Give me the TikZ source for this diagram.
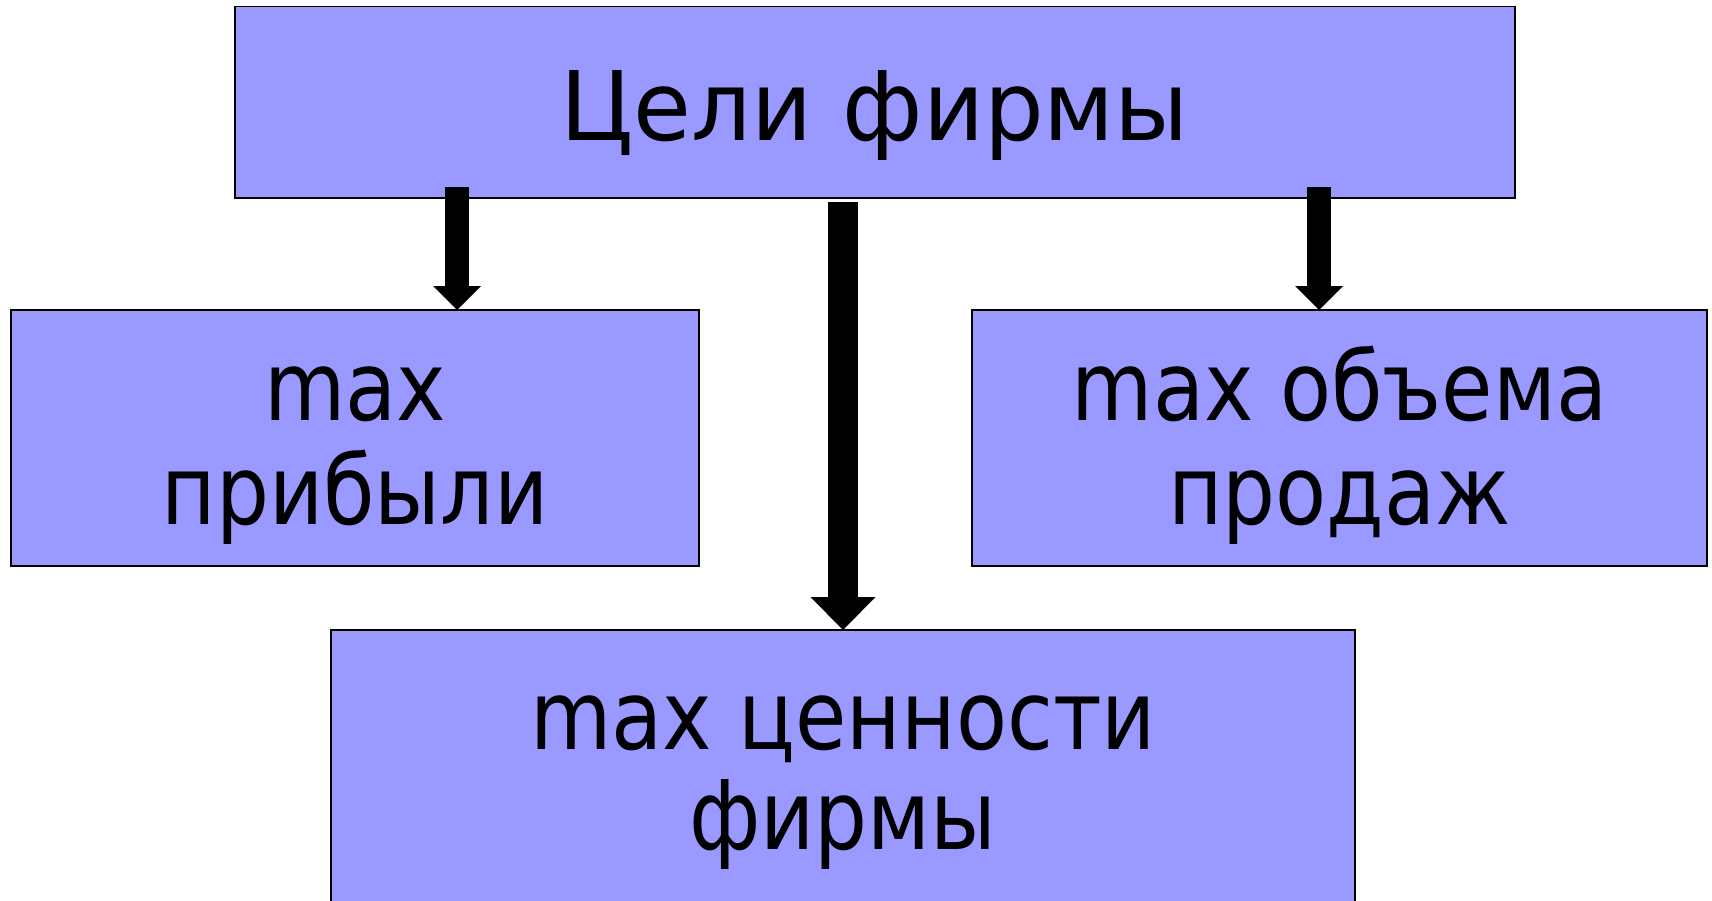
\documentclass[tikz,border=0pt]{standalone}
\usepackage{fontspec}
\usetikzlibrary{arrows.meta}
\newfontfamily\headfont[FakeStretch=0.98]{DejaVu Sans}
\newfontfamily\boxfont[FakeStretch=0.87]{DejaVu Sans}
\definecolor{boxfill}{HTML}{9999FF}
\tikzset{
  goalbox/.style={draw=black, line width=1.5pt, fill=boxfill, inner sep=0pt, outer sep=0pt},
  goaltext/.style={anchor=base, inner sep=0pt, font=\boxfont\fontsize{96pt}{104pt}\selectfont},
  headtext/.style={anchor=base, inner sep=0pt, font=\headfont\fontsize{96pt}{104pt}\selectfont},
  thinarrow/.style={line width=24pt, -{Triangle[length=24pt, width=48pt, line width=0pt]}},
  widearrow/.style={line width=30pt, -{Triangle[length=33pt, width=65pt, line width=0pt]}}
}
\begin{document}
\begin{tikzpicture}[x=1pt, y=-1pt]
\useasboundingbox (0,0) rectangle (1712,900);
\fill[white] (0,0) rectangle (1712,900);
% boxes
\node[goalbox, minimum width=1280pt, minimum height=191.5pt] (goals) at (875,102.25) {};
\node[goalbox, minimum width=688pt, minimum height=256pt] (profit) at (355,438) {};
\node[goalbox, minimum width=735pt, minimum height=256pt] (sales) at (1339.5,438) {};
\node[goalbox, minimum width=1024pt, minimum height=280pt] (value) at (843,770) {};
% texts
\node[headtext] (goals-t) at (875,140) {Цели фирмы};
\node[goaltext] (profit-t1) at (355,420) {max};
\node[goaltext] (profit-t2) at (355,524) {прибыли};
\node[goaltext] (sales-t1) at (1339.5,420) {max объема};
\node[goaltext] (sales-t2) at (1339.5,524) {продаж};
\node[goaltext] (value-t1) at (843,749) {max ценности};
\node[goaltext] (value-t2) at (843,849) {фирмы};
% arrows
\coordinate (a1) at (457,187);
\coordinate (a2) at (843,202);
\coordinate (a3) at (1319,187);
\draw[thinarrow] (a1) -- (a1 |- profit.north);
\draw[widearrow] (a2) -- (a2 |- value.north);
\draw[thinarrow] (a3) -- (a3 |- sales.north);
\end{tikzpicture}
\end{document}
